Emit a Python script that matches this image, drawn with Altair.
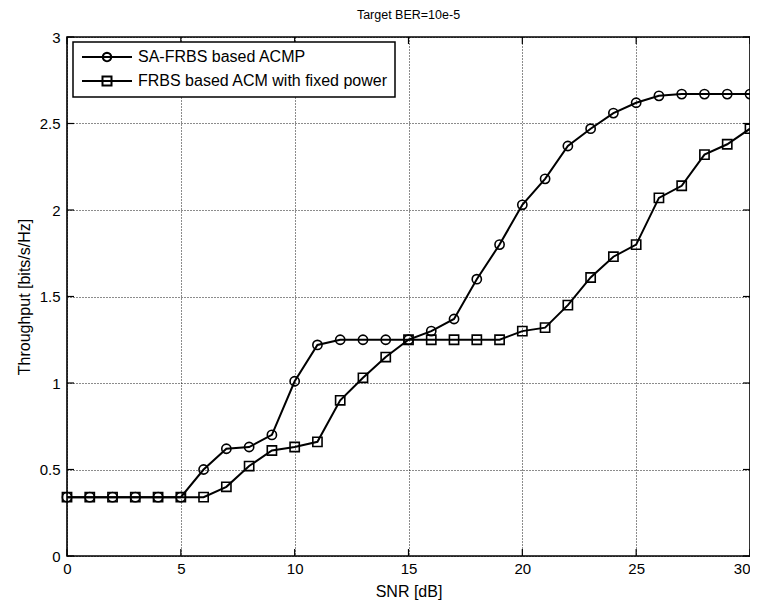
import math
import altair as alt
import pandas as pd

# ---- data ----
snr = [0, 1, 2, 3, 4, 5, 6, 7, 8, 9, 10, 11, 12, 13, 14, 15, 16, 17, 18, 19, 20,
       21, 22, 23, 24, 25, 26, 27, 28, 29, 30]
sa_frbs = [0.34, 0.34, 0.34, 0.34, 0.34, 0.34, 0.50, 0.62, 0.63, 0.70, 1.01,
           1.22, 1.25, 1.25, 1.25, 1.25, 1.30, 1.37, 1.60, 1.80, 2.03,
           2.18, 2.37, 2.47, 2.56, 2.62, 2.66, 2.67, 2.67, 2.67, 2.67]
frbs_fixed = [0.34, 0.34, 0.34, 0.34, 0.34, 0.34, 0.34, 0.40, 0.52, 0.61, 0.63,
              0.66, 0.90, 1.03, 1.15, 1.25, 1.25, 1.25, 1.25, 1.25, 1.30,
              1.32, 1.45, 1.61, 1.73, 1.80, 2.07, 2.14, 2.32, 2.38, 2.47]
series_names = ["SA-FRBS based ACMP", "FRBS based ACM with fixed power"]
x_ticks = [0, 5, 10, 15, 20, 25, 30]
y_ticks = [0, 0.5, 1, 1.5, 2, 2.5, 3]

rows = []
for name, vals in zip(series_names, [sa_frbs, frbs_fixed]):
    for s, v in zip(snr, vals):
        rows.append({"snr": s, "throughput": v, "series": name})
df = pd.DataFrame(rows)
xt = pd.DataFrame({"snr": x_ticks})
yt = pd.DataFrame({"throughput": y_ticks})

W, H = 683, 519
FONT = "Liberation Sans"

x_axis = alt.Axis(title="SNR [dB]", values=x_ticks, format="~g", grid=True,
                  gridColor="black", gridDash=[1, 2], gridWidth=1, gridOpacity=0.9,
                  domain=False, ticks=False, labelPadding=5, labelFontSize=15,
                  labelColor="black", titleFontSize=16, titleFontWeight="normal",
                  titleColor="black", titlePadding=7, labelFlush=False,
                  labelAlign={"condition": {"test": "datum.value >= 30", "value": "right"},
                              "value": "center"})
y_axis = alt.Axis(title="Throughput [bits/s/Hz]", values=y_ticks, format="~g", grid=True,
                  gridColor="black", gridDash=[1, 2], gridWidth=1, gridOpacity=0.9,
                  domain=False, ticks=False, labelPadding=7, labelFontSize=15,
                  labelColor="black", titleFontSize=16, titleFontWeight="normal",
                  titleColor="black", titlePadding=7, labelFlush=False)
x_scale = alt.Scale(domain=[0, 30], nice=False, zero=False)
y_scale = alt.Scale(domain=[0, 3], nice=False, zero=False)


def X(field="snr"):
    return alt.X(f"{field}:Q", scale=x_scale, axis=x_axis)


def Y(field="throughput"):
    return alt.Y(f"{field}:Q", scale=y_scale, axis=y_axis)


lines = alt.Chart(df).mark_line(color="black", strokeWidth=2).encode(
    x=X(), y=Y(), detail="series:N")

points = alt.Chart(df).mark_point(filled=False, color="black", strokeWidth=1.6, size=85,
                                  opacity=1).encode(
    x=X(), y=Y(),
    shape=alt.Shape("series:N", scale=alt.Scale(domain=series_names,
                                                range=["circle", "square"]),
                    legend=None))

# legend symbols: line with marker (unit coords, 5 px per unit at size 100)
poly = []
for k in range(16):
    a = 2 * math.pi * k / 16
    poly.append(f"{0.85 * math.cos(a):.3f},{0.85 * math.sin(a):.3f}")
circle_path = "M-5,0L5,0M" + "L".join(poly) + "Z"
square_path = "M-5,0L5,0M-0.9,-0.9L0.9,-0.9L0.9,0.9L-0.9,0.9Z"

legend_layer = alt.Chart(df).mark_point(opacity=0, filled=False, color="black").encode(
    x=X(), y=Y(),
    shape=alt.Shape("series:N",
                    scale=alt.Scale(domain=series_names, range=[circle_path, square_path]),
                    legend=alt.Legend(title=None, orient="none", legendX=6, legendY=5,
                                      strokeColor="black", fillColor="white", padding=7,
                                      labelFontSize=16, labelFont=FONT, labelColor="black",
                                      symbolStrokeColor="black", symbolStrokeWidth=2,
                                      symbolFillColor="transparent", symbolOpacity=1,
                                      symbolSize=100, symbolOffset=19, labelOffset=23,
                                      rowPadding=6, cornerRadius=0, labelLimit=400)))

tick_bottom = alt.Chart(xt).mark_rule(color="black", strokeWidth=1.2).encode(
    x=X(), y=alt.value(H), y2=alt.value(H - 7))
tick_top = alt.Chart(xt).mark_rule(color="black", strokeWidth=1.2).encode(
    x=X(), y=alt.value(0), y2=alt.value(7))
tick_left = alt.Chart(yt).mark_rule(color="black", strokeWidth=1.2).encode(
    y=Y(), x=alt.value(0), x2=alt.value(7))
tick_right = alt.Chart(yt).mark_rule(color="black", strokeWidth=1.2).encode(
    y=Y(), x=alt.value(W), x2=alt.value(W - 7))

chart = alt.layer(lines, points, legend_layer, tick_bottom, tick_top, tick_left,
                  tick_right).resolve_scale(shape="independent").properties(
    width=W, height=H,
    title=alt.Title("Target BER=10e-5", fontSize=12.5, fontWeight="normal",
                    color="black", font=FONT, offset=9),
    autosize=alt.AutoSizeParams(type="none"),
    padding={"left": 59, "top": 29, "right": 0, "bottom": 45},
).configure(font=FONT, background="white").configure_view(
    stroke="black", strokeWidth=1.6).configure_legend(strokeWidth=1.5)

chart.save("out.html", embed_options={"renderer": "svg", "actions": False})
